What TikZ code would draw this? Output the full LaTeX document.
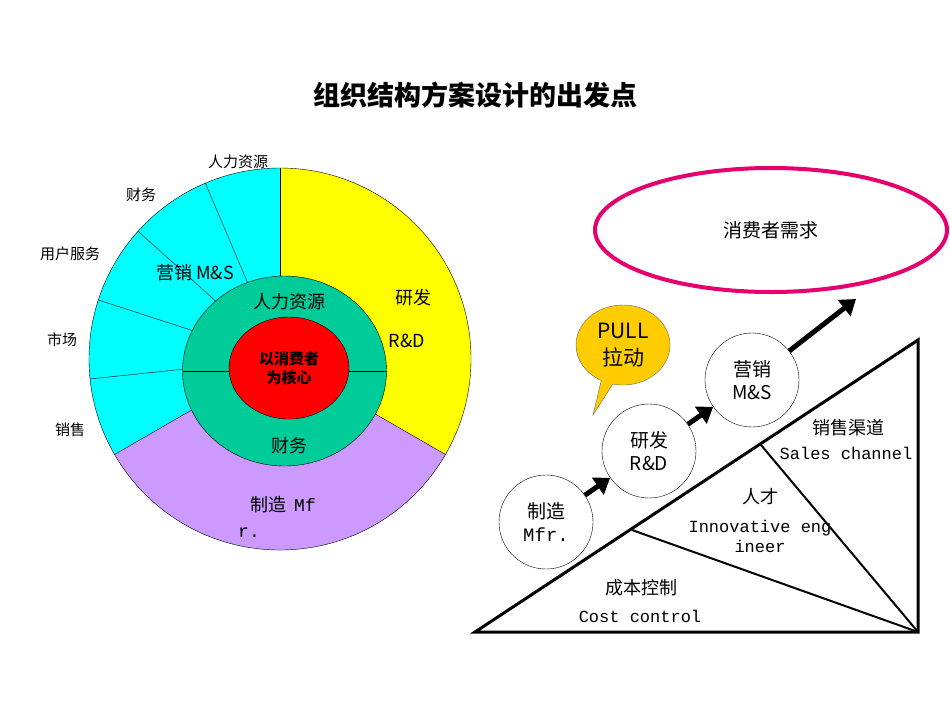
\documentclass[tikz,border=0pt]{standalone}
\usepackage{fontspec}
\setmainfont{Noto Sans CJK SC}
\setmonofont{Liberation Mono}
\usetikzlibrary{arrows.meta,shapes.callouts,shapes.geometric}
\definecolor{cyanfill}{RGB}{0,255,255}
\definecolor{yelfill}{RGB}{255,255,0}
\definecolor{purfill}{RGB}{204,153,255}
\definecolor{grnfill}{RGB}{0,204,153}
\definecolor{pinkline}{RGB}{230,0,110}
\definecolor{pullfill}{RGB}{255,204,0}
\begin{document}
\begin{tikzpicture}[x=1pt,y=-1pt]
    \tikzstyle{lbl} = [font=\fontsize{15}{17}\selectfont]
    \tikzstyle{big} = [font=\fontsize{18}{22}\selectfont, align=center]
    \tikzstyle{mono} = [font=\fontsize{17}{20}\selectfont\ttfamily, align=center]
    \tikzstyle{stage} = [circle, draw=black, minimum size=94pt, inner sep=0pt, align=center, font=\fontsize{19}{23}\selectfont]
    \tikzstyle{push} = [line width=5pt, -{Triangle[length=15pt,width=20pt]}]
    \useasboundingbox (0,0) rectangle (950,713);
    \node (title) at (475,95) {\fontsize{27}{32}\selectfont\bfseries 组织结构方案设计的出发点};
    % pie
    \coordinate (o) at (280,359);
    \fill[cyanfill] (o) -- ++(90:-191) arc[start angle=-90, end angle=-210, radius=191] -- cycle;
    \fill[yelfill] (o) -- ++(0,-191) arc[start angle=-90, end angle=30, radius=191] -- cycle;
    \fill[purfill] (o) -- ++(30:191) arc[start angle=30, end angle=150, radius=191] -- cycle;
    \foreach \a in {-90,30,150,-113,-138,-162,-186}
      \draw[thin] (o) -- ++(\a:191);
    \draw[thin] (o) circle[radius=191];
    \filldraw[fill=grnfill, draw=black, thin] (284.5,371) ellipse[x radius=102, y radius=95];
    \draw[thin] (182.5,371) -- (386.5,371);
    \filldraw[fill=red, draw=black, thin] (289,368) ellipse[x radius=60, y radius=51];
    \node (core) [font=\fontsize{15}{19}\selectfont\bfseries, align=center] at (289,368) {以消费者\\为核心};
    \node (hr) [big] at (289,302) {人力资源};
    \node (fin) [big] at (289,446) {财务};
    \node (rd) [big] at (413,298) {研发};
    \node (rdEn) [big] at (407,341) {R\&D};
    \node (mfr) [big] at (283,505) {制造\ \ \ttfamily Mf};
    \node (mfrB) [big] at (249,533) {\ttfamily r.};
    \node (ms) [big] at (195,273) {营销 M\&S};
    \node (l1) [lbl] at (238,162) {人力资源};
    \node (l2) [lbl] at (141,195) {财务};
    \node (l3) [lbl] at (70,254) {用户服务};
    \node (l4) [lbl] at (62,340) {市场};
    \node (l5) [lbl] at (70,430) {销售};
    % right side
    \node (need) [ellipse, draw=pinkline, line width=4pt, minimum width=352pt, minimum height=124pt, font=\fontsize{19}{23}\selectfont] at (771,230) {消费者需求};
    \draw[line width=3pt, line join=miter] (475,632) -- (918,632) -- (918,340) -- cycle;
    \coordinate (tip) at (918,632);
    \coordinate (h1) at (632,530);
    \coordinate (h2) at (761,445);
    \coordinate (goal) at (856,299);
    \draw[line width=2pt] (h1) -- (tip);
    \draw[line width=2pt] (h2) -- (tip);
    \node (sc) [big] at (848,428) {销售渠道};
    \node (scEn) [mono] at (846,453) {Sales channel};
    \node (ie) [big] at (760,497) {人才};
    \node (ieEn) [mono] at (760,536) {Innovative eng\\ineer};
    \node (cc) [big] at (641,588) {成本控制};
    \node (ccEn) [mono] at (640,616) {Cost control};
    \node (s1) [stage, fill=white] at (546,522) {制造\\\ttfamily Mfr.};
    \node (s2) [stage, fill=white] at (649,451) {研发\\R\&D};
    \node (s3) [stage, fill=white] at (752,380) {营销\\M\&S};
    \draw[push] (s1) -- (s2);
    \draw[push] (s2) -- (s3);
    \draw[push] (s3) -- (goal);
    \node (pull) [ellipse callout, fill=pullfill, draw=black!60, thin, minimum width=94pt, minimum height=80pt, callout absolute pointer={(593,415)}, align=center, font=\fontsize{21}{27}\selectfont] at (623,345) {PULL\\拉动};
\end{tikzpicture}
\end{document}
